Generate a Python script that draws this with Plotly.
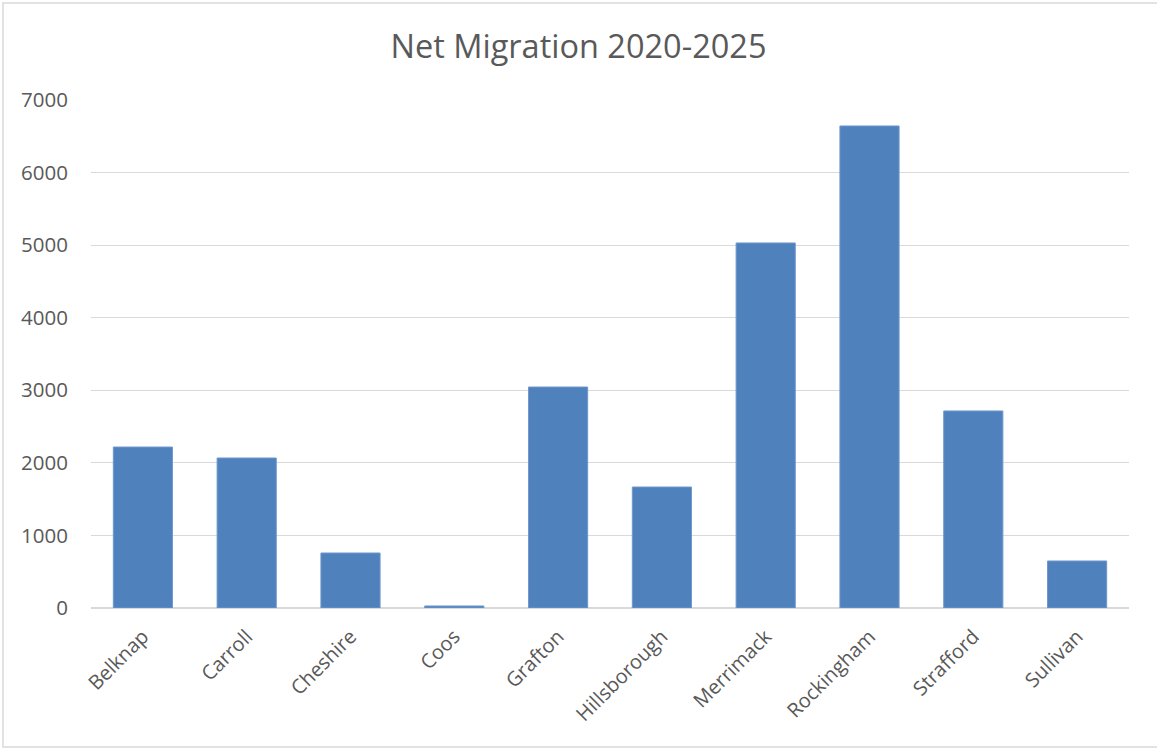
import plotly.graph_objects as go

counties = ["Belknap", "Carroll", "Cheshire", "Coos", "Grafton", "Hillsborough",
            "Merrimack", "Rockingham", "Strafford", "Sullivan"]
net_migration = [2218, 2067, 758, 28, 3045, 1667, 5030, 6642, 2715, 648]
y_ticks = [0, 1000, 2000, 3000, 4000, 5000, 6000, 7000]

W, H = 1157, 750
L, R, T, B = 91, 28, 100, 142
pw, ph = W - L - R, H - T - B

def px(x):
    return (x - L) / pw

def py(y):
    return (H - B - y) / ph

fig = go.Figure(go.Bar(
    x=counties, y=net_migration,
    marker=dict(color="#4f81bd", line=dict(color="#6f98cc", width=1)),
    width=0.57,
))

fig.update_layout(
    width=W, height=H,
    margin=dict(l=L, r=R, t=T, b=B, autoexpand=False),
    paper_bgcolor="white", plot_bgcolor="white",
    font=dict(family="Open Sans, Liberation Sans, sans-serif", color="#595959", size=20),
    title=dict(text="Net Migration 2020-2025", x=0.5, xanchor="center",
               y=1 - 47 / H, yanchor="middle",
               font=dict(size=32.5, color="#595959")),
    showlegend=False,
    bargap=0.43,
    xaxis=dict(tickangle=-45, showgrid=False, showline=False, ticks="",
               ticklabelstandoff=12,
               tickfont=dict(size=20, color="#595959")),
    yaxis=dict(range=[0, 7000], tickvals=y_ticks, showgrid=True,
               gridcolor="#d9d9d9", gridwidth=1, zeroline=True,
               zerolinecolor="#d9d9d9", zerolinewidth=1.5, showline=False,
               ticks="", ticklabelstandoff=22,
               tickfont=dict(size=20.5, color="#595959")),
    shapes=[dict(type="rect", xref="paper", yref="paper",
                 x0=px(3), x1=px(1170), y0=py(747), y1=py(3),
                 line=dict(color="#d9d9d9", width=1.5), fillcolor="rgba(0,0,0,0)",
                 layer="below")],
)

fig.write_html("out.html", config={"displayModeBar": False},
               post_script="document.body.style.margin='0';document.body.style.overflow='hidden';")
